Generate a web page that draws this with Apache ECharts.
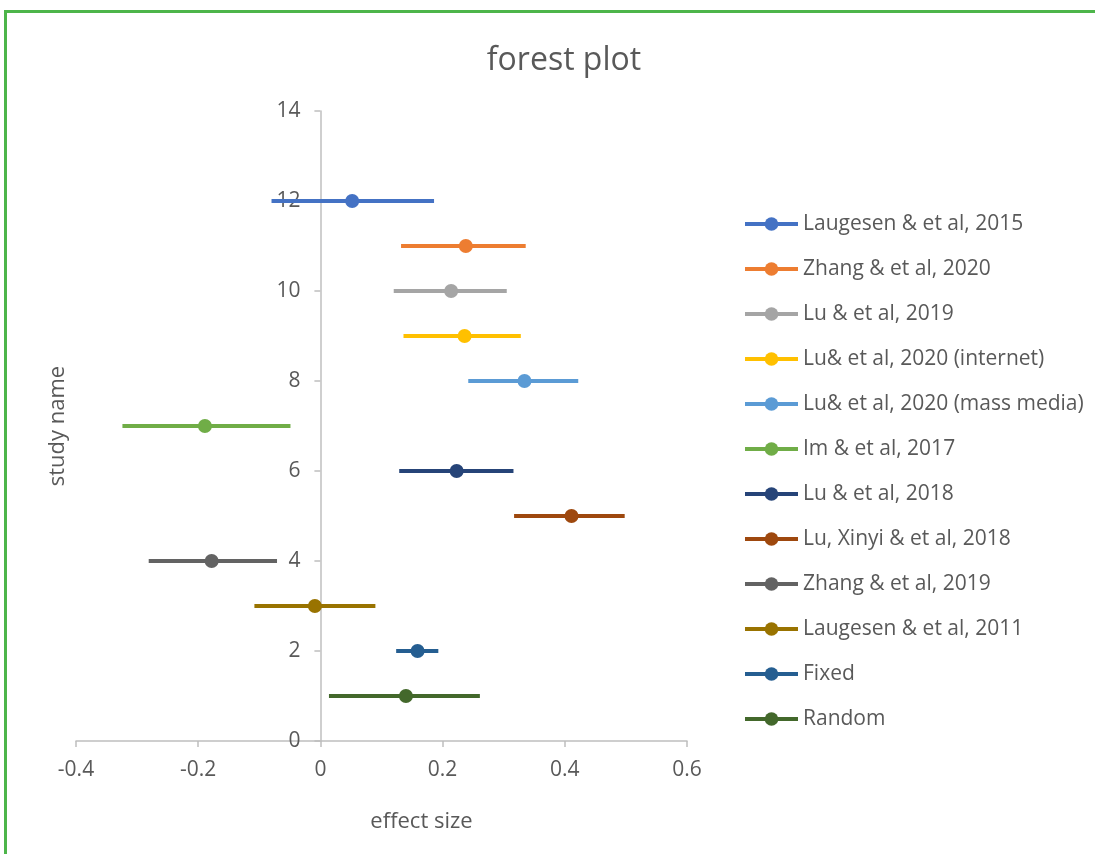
<!DOCTYPE html>
<html>
<head>
<meta charset="utf-8">
<script src="https://cdn.jsdelivr.net/npm/echarts@6/dist/echarts.min.js"></script>
<style>
html,body{margin:0;padding:0;background:#fff;overflow:hidden;}
#frame{position:absolute;left:4px;top:10px;width:1200px;height:900px;border-left:3px solid #4DB54A;border-top:3px solid #4DB54A;box-sizing:border-box;}
#chart{position:absolute;left:0;top:0;width:1095px;height:854px;}
</style>
</head>
<body>
<div id="frame"></div>
<div id="chart"></div>
<script>
var studyNames = ['Laugesen & et al, 2015','Zhang & et al, 2020','Lu & et al, 2019','Lu& et al, 2020 (internet)','Lu& et al, 2020 (mass media)','Im & et al, 2017','Lu & et al, 2018','Lu, Xinyi & et al, 2018','Zhang & et al, 2019','Laugesen & et al, 2011','Fixed','Random'];
var rows = [12, 11, 10, 9, 8, 7, 6, 5, 4, 3, 2, 1];
var lows = [-0.080, 0.132, 0.120, 0.136, 0.242, -0.324, 0.129, 0.317, -0.281, -0.108, 0.124, 0.014];
var estimates = [0.052, 0.238, 0.214, 0.236, 0.334, -0.189, 0.223, 0.411, -0.178, -0.009, 0.159, 0.140];
var highs = [0.186, 0.336, 0.305, 0.328, 0.422, -0.049, 0.316, 0.498, -0.071, 0.090, 0.193, 0.261];
var xTicks = [-0.4, -0.2, 0, 0.2, 0.4, 0.6];
var yTicks = [0, 2, 4, 6, 8, 10, 12, 14];
var palette = ['#4472C4','#ED7D31','#A5A5A5','#FFC000','#5B9BD5','#70AD47','#264478','#9E480E','#636363','#997300','#255E91','#43682B'];

var X_MIN = -0.4, X_MAX = 0.6;
var GRID = {left: 76, right: 408, top: 111, bottom: 113};
var gridWidth = 1095 - GRID.left - GRID.right;
var yAxisOffset = -gridWidth * (0 - X_MIN) / (X_MAX - X_MIN);

var chart = echarts.init(document.getElementById('chart'));
var series = studyNames.map(function(n, i){
  return {
    name: n,
    type: 'line',
    symbol: 'circle',
    symbolSize: 14,
    showAllSymbol: true,
    itemStyle: {color: palette[i]},
    lineStyle: {color: palette[i], width: 4},
    data: [
      {value: [lows[i], rows[i]], symbolSize: 0},
      {value: [estimates[i], rows[i]]},
      {value: [highs[i], rows[i]], symbolSize: 0}
    ],
    z: 3
  };
});
var font = 'Open Sans, Noto Sans, sans-serif';
chart.setOption({
  animation: false,
  color: palette,
  title: {text: 'forest plot', left: 559, top: 40, textAlign: 'center',
    textStyle: {fontSize: 32, fontWeight: 'normal', color: '#595959', fontFamily: font}},
  grid: {left: GRID.left, right: GRID.right, top: GRID.top, bottom: GRID.bottom, containLabel: false, outerBoundsMode: 'none'},
  xAxis: {
    type: 'value', min: X_MIN, max: X_MAX, interval: 0.2,
    name: 'effect size', nameLocation: 'middle', nameGap: 70,
    nameTextStyle: {fontSize: 22, color: '#595959', fontFamily: font, padding: [0,0,0,80]},
    axisLine: {show: true, onZero: false, lineStyle: {color: '#BFBFBF', width: 1.5}},
    axisTick: {show: true, inside: false, length: 6, lineStyle: {color: '#BFBFBF', width: 1.5}},
    axisLabel: {fontSize: 21, color: '#595959', margin: 19, fontFamily: font,
      formatter: function(v){ var t = xTicks.filter(function(x){return Math.abs(x-v)<1e-9;}); return t.length ? String(t[0]) : ''; }},
    splitLine: {show: false}
  },
  yAxis: {
    type: 'value', min: 0, max: 14, interval: 2,
    offset: yAxisOffset,
    name: 'study name', nameLocation: 'middle', nameGap: 252, nameRotate: 90,
    nameTextStyle: {fontSize: 22, color: '#595959', fontFamily: font},
    axisLine: {show: true, onZero: false, lineStyle: {color: '#BFBFBF', width: 1.5}},
    axisTick: {show: true, inside: false, length: 6, lineStyle: {color: '#BFBFBF', width: 1.5}},
    axisLabel: {fontSize: 21, color: '#595959', margin: 20, fontFamily: font,
      formatter: function(v){ return yTicks.indexOf(v) >= 0 ? String(v) : ''; }},
    splitLine: {show: false}
  },
  legend: {
    orient: 'vertical', left: 743, top: 212, padding: 0,
    itemWidth: 53, itemHeight: 17, itemGap: 21,
    lineStyle: {width: 4},
    textStyle: {fontSize: 21, color: '#595959', fontFamily: font, lineHeight: 24},
    data: studyNames
  },
  series: series
});
</script>
</body>
</html>
